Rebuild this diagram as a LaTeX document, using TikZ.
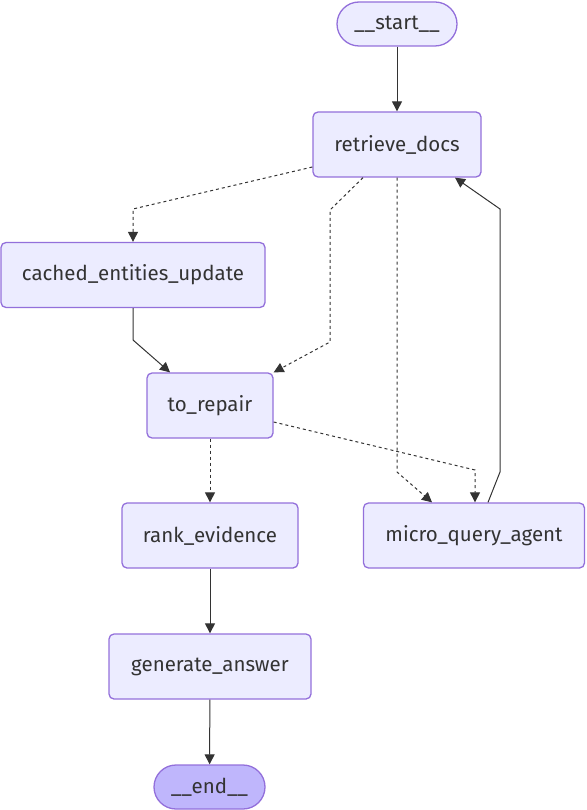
\documentclass[tikz,border=0pt]{standalone}
\usepackage{fontspec}
\setmainfont{Fira Sans}
\usetikzlibrary{arrows.meta,calc}
\definecolor{nodefill}{HTML}{ECECFF}
\definecolor{nodeborder}{HTML}{9370DB}
\definecolor{endfill}{HTML}{BFB6FC}
\definecolor{txt}{HTML}{333333}
\definecolor{edge}{HTML}{333333}
\begin{document}
\begin{tikzpicture}[x=1pt,y=-1pt,
  box/.style={draw=nodeborder,line width=1.3pt,fill=nodefill,rounded corners=5pt,
    minimum height=65pt,inner sep=0pt,text=txt,font=\fontsize{20.5}{24}\selectfont},
  pill/.style={box,rounded corners=22pt,minimum height=44pt},
  solidarrow/.style={draw=edge,line width=1pt,-{Triangle[length=10pt,width=10pt]}},
  dotarrow/.style={solidarrow,dash pattern=on 3pt off 3pt}]
\useasboundingbox (0,0) rectangle (586,810);
\node[pill,minimum width=120pt] (start) at (397,24) {\_\_start\_\_};
\node[box,minimum width=168pt] (retrieve) at (397,144.5) {retrieve\_docs};
\node[box,minimum width=264pt] (cached) at (133,275) {cached\_entities\_update};
\node[box,minimum width=126pt] (repair) at (210,405.5) {to\_repair};
\node[box,minimum width=176pt] (rank) at (210,535.5) {rank\_evidence};
\node[box,minimum width=221pt] (micro) at (474,535.5) {micro\_query\_agent};
\node[box,minimum width=202pt] (generate) at (210,666.5) {generate\_answer};
\node[pill,minimum width=111pt,fill=endfill] (end) at (209.5,787) {\_\_end\_\_};
\coordinate (y167) at (0,167);
\coordinate (y422) at (0,422);
\coordinate (x363) at (363,0);
\coordinate (x432) at (432,0);
\coordinate (x488) at (488,0);
\coordinate (x455) at (455,0);
\coordinate (x170) at (170,0);
\coordinate (x475) at (475,0);
\draw[solidarrow] (start) -- (retrieve);
\draw[dotarrow] (retrieve.west |- y167) -- (133,209) -- (cached.north);
\draw[dotarrow] (retrieve.south -| x363) -- (330,210) -- (330,342) -- (repair.north east);
\draw[dotarrow] (retrieve.south) -- (397,472) -- (micro.north -| x432);
\draw[dotarrow] (repair.east |- y422) -- (475,470) -- (micro.north -| x475);
\draw[dotarrow] (repair) -- (rank);
\draw[solidarrow] (cached.south) -- (133,340) -- (repair.north -| x170);
\draw[solidarrow] (micro.north -| x488) -- (500,472) -- (500,209) -- (retrieve.south -| x455);
\draw[solidarrow] (rank) -- (generate);
\draw[solidarrow] (generate) -- (end);
\end{tikzpicture}
\end{document}
